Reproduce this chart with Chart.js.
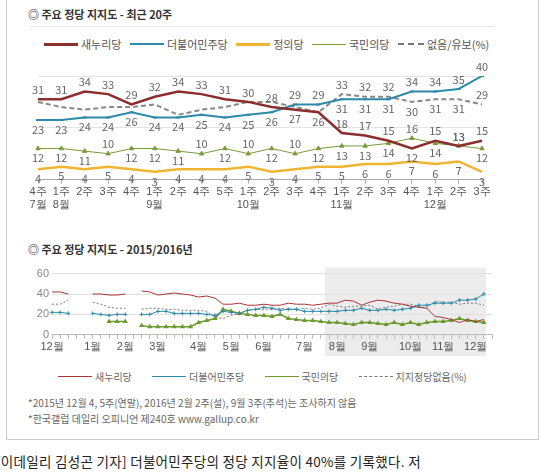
<!DOCTYPE html>
<html><head><meta charset="utf-8">
<script src="https://cdn.jsdelivr.net/npm/chart.js@4"></script>
<style>
body{margin:0;width:547px;height:476px;overflow:hidden;background:#fff;font-family:"Noto Sans CJK KR",sans-serif;position:relative}
.frame{position:absolute;left:6px;top:-2px;width:531px;height:440px;border:1px solid #ccc}
.title{position:absolute;left:28px;font-size:11px;font-weight:bold;color:#333}
.legend{position:absolute;font-size:11px;color:#555;white-space:nowrap}
.legend span{display:inline-block;vertical-align:middle}
.ln{width:34px;height:0;margin:0 3px 0 6px}
.note{position:absolute;left:28px;font-size:10px;color:#666}
#top{position:absolute;left:0;top:48px}
#bot{position:absolute;left:0;top:264px}
.news{position:absolute;left:-4px;top:451px;font-size:13.5px;color:#222;white-space:nowrap;letter-spacing:0.3px}
</style></head><body>
<div class="frame"></div>
<div class="title" style="top:6px">◎ 주요 정당 지지도 - 최근 20주</div>
<div style="position:absolute;left:30px;top:26px;width:465px;border-top:1px solid #e4e4e4"></div>
<div class="legend" style="left:38px;top:34px">
<span class="ln" style="border-top:3px solid #8b2e2e"></span><span>새누리당</span>
<span class="ln" style="border-top:2px solid #2f8aa8"></span><span>더불어민주당</span>
<span class="ln" style="border-top:3px solid #f0b530"></span><span>정의당</span>
<span class="ln" style="border-top:1px solid #7b9a3c"></span><span>국민의당</span>
<span class="ln" style="width:26px;border-top:2px dashed #777"></span><span>없음/유보(%)</span>
</div>
<canvas id="top" width="547" height="166"></canvas>
<div class="title" style="top:241px">◎ 주요 정당 지지도 - 2015/2016년</div>
<canvas id="bot" width="547" height="92"></canvas>
<div class="legend" style="left:52px;top:367px;font-size:10px;color:#666">
<span class="ln" style="border-top:1px solid #a33"></span><span>새누리당</span>
<span class="ln" style="border-top:1px solid #2f8aa8;margin-left:18px"></span><span>더불어민주당</span>
<span class="ln" style="border-top:1px solid #6c9a2e;margin-left:18px"></span><span>국민의당</span>
<span class="ln" style="border-top:1px dashed #777;margin-left:18px"></span><span>지지정당없음(%)</span>
</div>
<div class="note" style="top:395px">*2015년 12월 4, 5주(연말), 2016년 2월 2주(설), 9월 3주(추석)는 조사하지 않음</div>
<div class="note" style="top:411px">*한국갤럽 데일리 오피니언 제240호 www.gallup.co.kr</div>
<div class="news">[이데일리 김성곤 기자] 더불어민주당의 정당 지지율이 40%를 기록했다. 저</div>
<script>
// 최근 20주
const weekLabels = [['4주','7월'],['1주','8월'],'2주','3주','4주',['1주','9월'],'2주','4주','5주',['1주','10월'],'2주','3주','4주',['1주','11월'],'2주','3주','4주',['1주','12월'],'2주','3주'];
const saenuri = [31,31,34,33,29,32,34,33,31,30,28,27,26,18,17,15,12,15,13,15];
const minjoo  = [23,23,24,24,26,24,24,25,24,25,26,29,29,31,31,31,34,34,35,40];
const justice = [4,5,4,5,4,3,4,4,4,5,3,4,5,5,6,6,7,6,7,3];
const people  = [12,12,11,10,12,12,11,10,12,10,12,10,12,13,13,14,16,14,13,12];
const noneYubo = [30,28,27,28,28,29,25,27,28,30,30,28,26,33,32,32,30,31,31,29];
const noneLabelFrom = 13;

// 2015/2016 weekly (earlier weeks, before the last 20)
const monthLabels = ['12월','1월','2월','3월','4월','5월','6월','7월','8월','9월','10월','11월','12월'];
const weeksPerMonth = [5,4,4,5,4,4,5,4,4,5,4,4,3];
const saenuriEarly = [42,42,40,null,null,40,40,39,39,40,null,43,42,39,40,41,40,39,37,38,36,30,30,31,29,29,30,29,29,31,30,30,29,30];
const minjooEarly  = [22,22,21,null,null,21,20,19,20,20,null,20,20,23,23,21,21,21,21,20,19,23,22,21,24,25,27,26,24,25,25,23,23,23];
const peopleEarly  = [null,null,null,null,null,null,null,13,13,13,null,9,8,8,8,8,8,8,12,14,16,25,23,21,20,19,19,18,20,16,15,14,14,13];
const noneEarly    = [30,30,34,null,null,32,30,27,26,26,null,25,26,26,25,25,24,24,24,23,17,16,19,21,24,25,25,25,26,25,25,26,25,26];

const labeled = [
  {data: saenuri, def: 'above'},
  {data: minjoo, def: 'below'},
  {data: justice, def: 'below', fixed: true},
  {data: people, def: 'below'},
  {data: noneYubo, def: 'above', from: noneLabelFrom}
];

const pointLabels = {
  id: 'pointLabels',
  afterDatasetsDraw(chart) {
    const ctx = chart.ctx;
    ctx.save();
    ctx.font = '11px "Noto Sans CJK KR", sans-serif';
    ctx.fillStyle = '#666';
    ctx.textAlign = 'center';
    labeled.forEach((s, di) => {
      const meta = chart.getDatasetMeta(di);
      s.data.forEach((v, i) => {
        if (s.from && i < s.from) return;
        const others = labeled.filter((o, oi) => oi !== di && !(o.from && i < o.from)).map(o => o.data[i]);
        let pos = s.def;
        if (!s.fixed) {
          if (others.some(o => o > v && o - v <= 6)) pos = 'below';
          else if (others.every(o => o < v)) pos = 'above';
          else if (others.some(o => o < v && v - o <= 6)) pos = 'above';
        }
        const p = meta.data[i];
        ctx.textBaseline = pos === 'above' ? 'bottom' : 'top';
        ctx.fillText(v, p.x, pos === 'above' ? p.y - 4 : p.y + 4);
      });
    });
    ctx.restore();
  }
};

new Chart(document.getElementById('top'), {
  type: 'line',
  data: {
    labels: weekLabels,
    datasets: [
      {data: saenuri, borderColor: '#8b2e2e', borderWidth: 2.5, pointRadius: 0},
      {data: minjoo, borderColor: '#2f8aa8', borderWidth: 2, pointRadius: 2, pointStyle: 'line', pointBorderColor: '#2f8aa8'},
      {data: justice, borderColor: '#f0b530', borderWidth: 2.5, pointRadius: 0},
      {data: people, borderColor: '#7b9a3c', borderWidth: 1, pointRadius: 2.5, pointStyle: 'triangle', pointBackgroundColor: '#7b9a3c'},
      {data: noneYubo, borderColor: '#888', borderWidth: 2, borderDash: [5, 3], pointRadius: 0}
    ]
  },
  options: {
    responsive: false, animation: false,
    layout: {padding: {left: 38, right: 65, top: 28}},
    plugins: {legend: {display: false}, tooltip: {enabled: false}},
    scales: {
      x: {offset: false, grid: {display: true, drawOnChartArea: false, tickLength: 4, color: '#aaa'},
          border: {color: '#aaa'},
          ticks: {color: '#555', font: {size: 11}, maxRotation: 0, autoSkip: false, padding: 2}},
      y: {min: 0, max: 40, display: true, ticks: {display: false, stepSize: 20},
          grid: {color: '#e4e4e4', drawTicks: false}, border: {display: false}}
    }
  },
  plugins: [pointLabels]
});

// bottom chart
const botLabels = [];
weeksPerMonth.forEach((n, m) => { for (let w = 0; w < n; w++) botLabels.push(w === 0 ? monthLabels[m] : ''); });
const shadeFrom = saenuriEarly.length;

const shade = {
  id: 'shade',
  beforeDraw(chart) {
    const x = chart.scales.x, a = chart.chartArea;
    const ctx = chart.ctx;
    ctx.save();
    ctx.fillStyle = '#ececec';
    ctx.fillRect(x.getPixelForValue(shadeFrom) - 4, a.top - 6, a.right - 2 - x.getPixelForValue(shadeFrom), chart.height - a.top + 6);
    ctx.restore();
  }
};

new Chart(document.getElementById('bot'), {
  type: 'line',
  data: {
    labels: botLabels,
    datasets: [
      {data: saenuriEarly.concat(saenuri), borderColor: '#a33', borderWidth: 1, pointRadius: 0, spanGaps: false},
      {data: minjooEarly.concat(minjoo), borderColor: '#2f8aa8', borderWidth: 1, pointRadius: 2, pointStyle: 'cross', pointBorderColor: '#2f8aa8'},
      {data: peopleEarly.concat(people), borderColor: '#6c9a2e', borderWidth: 1.5, pointRadius: 1.5, pointStyle: 'triangle', pointBackgroundColor: '#6c9a2e'},
      {data: noneEarly.concat(noneYubo), borderColor: '#777', borderWidth: 1, borderDash: [2, 2], pointRadius: 0}
    ]
  },
  options: {
    responsive: false, animation: false,
    layout: {padding: {right: 55, top: 8}},
    plugins: {legend: {display: false}, tooltip: {enabled: false}},
    scales: {
      x: {offset: false, grid: {display: true, drawOnChartArea: false, tickLength: 4, color: '#bbb'},
          border: {color: '#bbb'},
          ticks: {color: '#555', font: {size: 11}, maxRotation: 0, autoSkip: false, padding: 2}},
      y: {min: 0, max: 60, ticks: {stepSize: 20, color: '#888', font: {size: 11}},
          grid: {color: '#e0e0e0', drawTicks: false}, border: {display: false},
          afterFit(s) { s.width = 52; }}
    }
  },
  plugins: [shade]
});
</script>
</body></html>
